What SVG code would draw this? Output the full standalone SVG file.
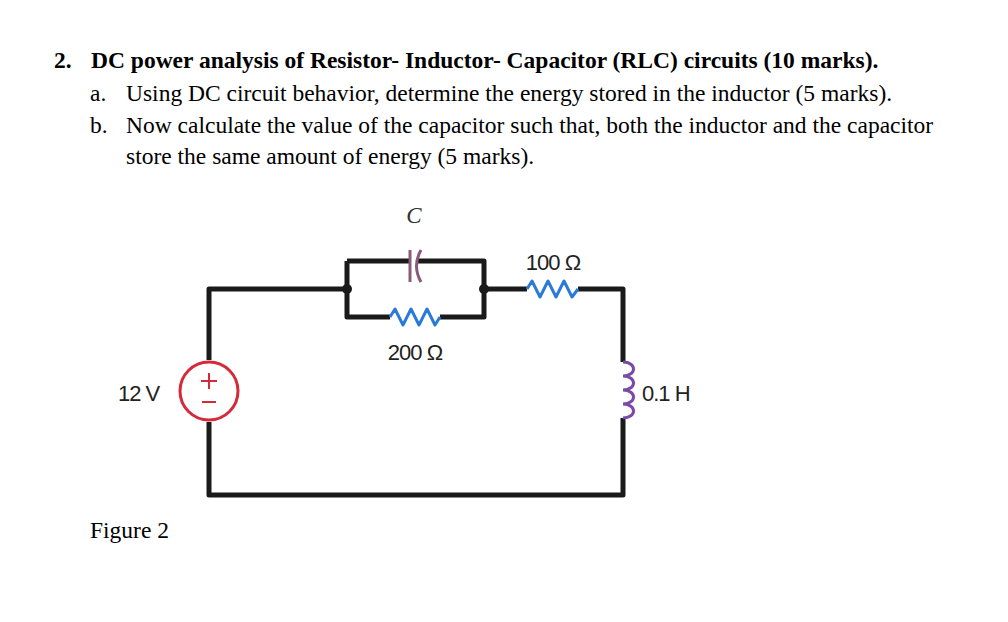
<svg xmlns="http://www.w3.org/2000/svg" width="1008" height="622" viewBox="0 0 1008 622">
<style>
.t{font-family:"Liberation Serif",serif;font-size:23.5px;fill:#000}
.b{font-weight:bold}
.s{font-family:"Liberation Sans",sans-serif;font-size:22px;fill:#222;letter-spacing:-1px}
.w{fill:none;stroke:#1a1a1a;stroke-width:5;stroke-linejoin:round}
.r{fill:none;stroke:#2a7ad8;stroke-width:3;stroke-linejoin:round}
</style>
<rect width="1008" height="622" fill="#fff"/>
<g class="t b"><text x="54" y="68">2.</text><text x="91" y="68">DC power analysis of Resistor- Inductor- Capacitor (RLC) circuits (10 marks).</text></g>
<g class="t"><text x="90" y="101">a.</text><text x="126" y="101">Using DC circuit behavior, determine the energy stored in the inductor (5 marks).</text>
<text x="90" y="133">b.</text><text x="126" y="133">Now calculate the value of the capacitor such that, both the inductor and the capacitor</text>
<text x="126" y="164">store the same amount of energy (5 marks).</text>
<text x="90" y="538">Figure 2</text></g>
<g id="wires">
<path class="w" d="M209,360 V289 H347 M347,261 V317 H390 M440,317 H484 V261 H418 M410,261 H347 M484,289 H527 M578,289 H623 V362 M623,418 V495 H209 V422"/>
<circle cx="347" cy="289" r="5" fill="#1a1a1a"/>
<circle cx="484" cy="289" r="5" fill="#1a1a1a"/>
</g>
<g id="cap">
<line x1="410" y1="250" x2="410" y2="282" stroke="#8a5a7a" stroke-width="3"/>
<path d="M421,250 Q412,266 421,282" fill="none" stroke="#8a5a7a" stroke-width="3"/>
<text x="414" y="223" font-family="Liberation Serif,serif" font-style="italic" font-size="23" text-anchor="middle" fill="#333">C</text>
</g>
<g id="r200">
<path class="r" d="M390,317 L395,309 L403,325 L411,309 L419,325 L427,309 L435,325 L440,317"/>
<text class="s" x="415" y="360" text-anchor="middle">200 Ω</text>
</g>
<g id="r100">
<path class="r" d="M527,289 L532,281 L540,297 L548,281 L556,297 L564,281 L572,297 L578,289"/>
<text class="s" x="553" y="270" text-anchor="middle">100 Ω</text>
</g>
<g id="ind">
<path d="M623,362 c14,0 14,14 0,14 c14,0 14,14 0,14 c14,0 14,14 0,14 c14,0 14,14 0,14" fill="none" stroke="#7a4aa8" stroke-width="3"/>
<text class="s" x="642" y="401">0.1 H</text>
</g>
<g id="src">
<circle cx="209" cy="391" r="29" fill="#fff" stroke="#d42a3a" stroke-width="3"/>
<path d="M201,381 H217 M209,373 V389 M202,402 H216" stroke="#d42a3a" stroke-width="2" fill="none"/>
<text class="s" x="118" y="401">12 V</text>
</g>
</svg>
